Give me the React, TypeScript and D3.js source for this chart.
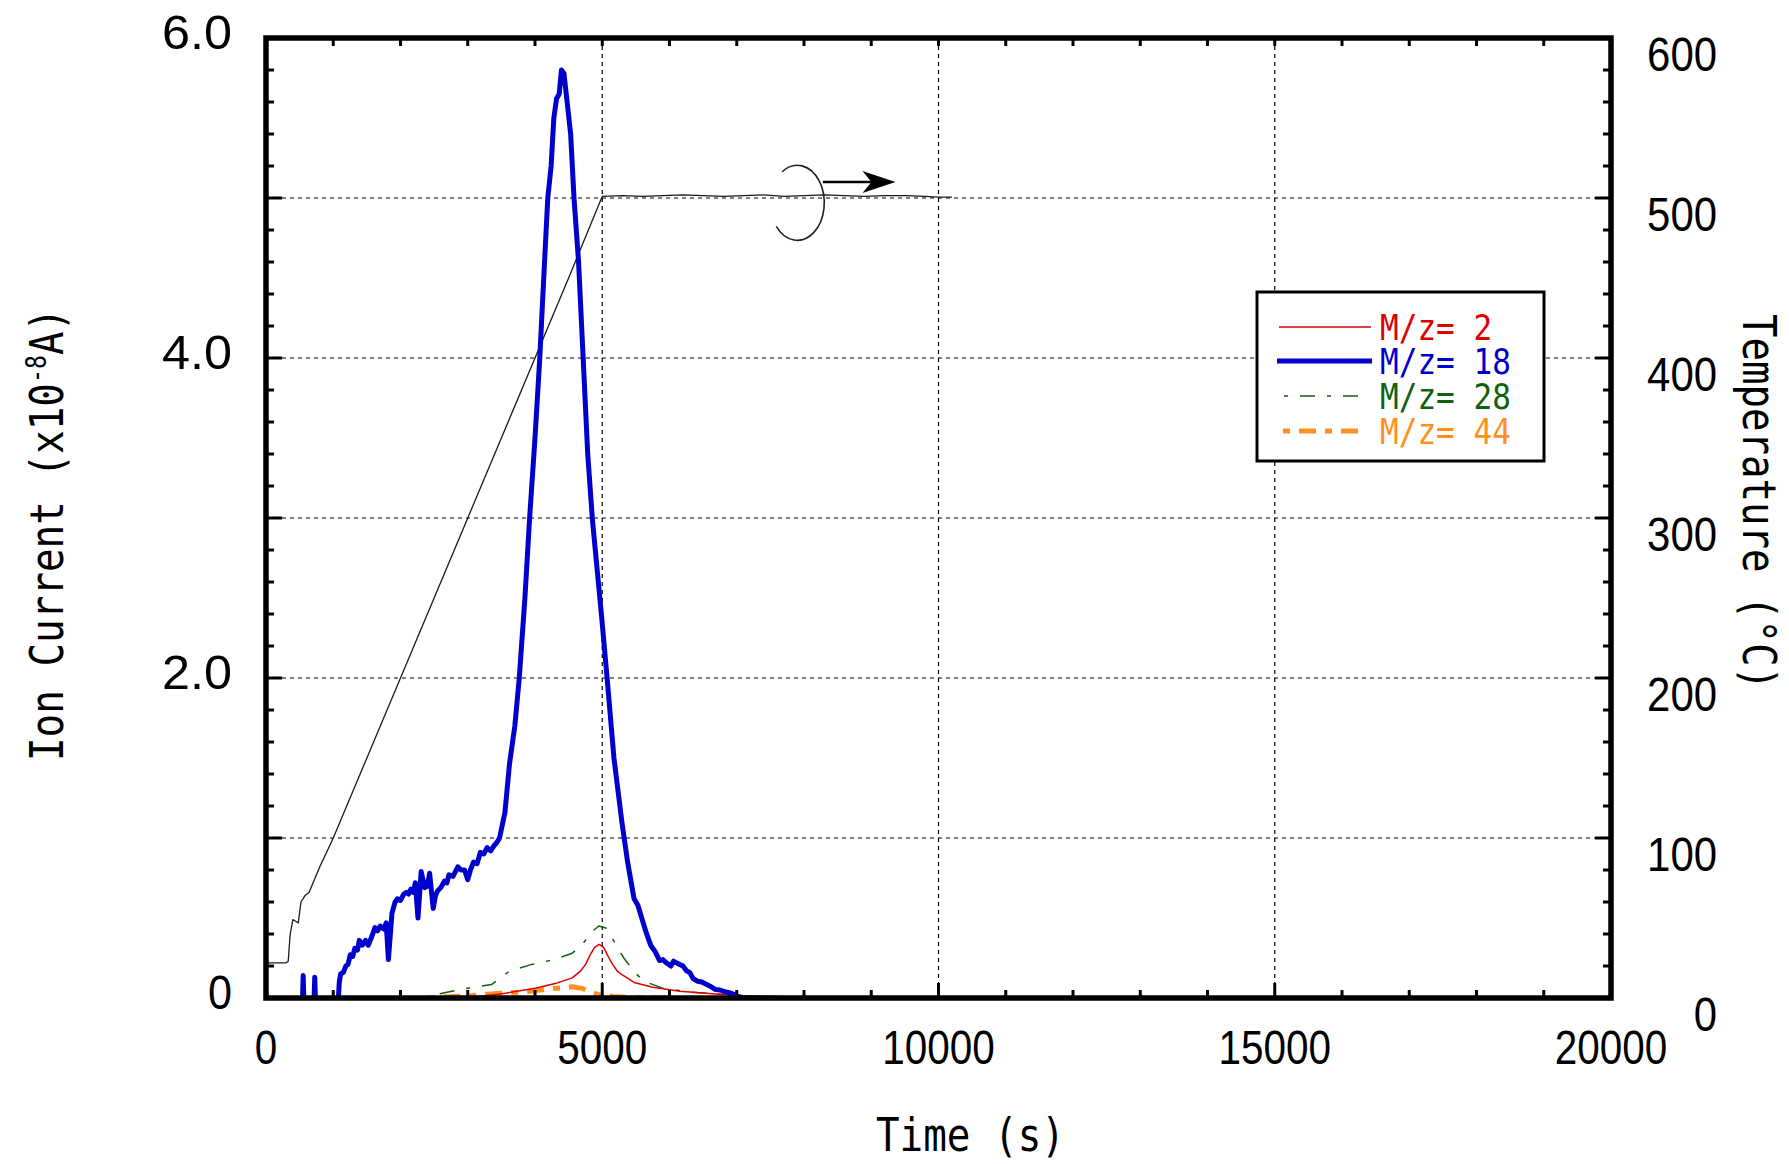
import React from "react";
import * as d3 from "d3";

// ---------- data ----------
const xTicksLabeled = [0, 5000, 10000, 15000, 20000];
const leftTickLabels = [
  { v: 0, s: "0" },
  { v: 2, s: "2.0" },
  { v: 4, s: "4.0" },
  { v: 6, s: "6.0" },
];
const rightTickLabels = [0, 100, 200, 300, 400, 500, 600];

// Temperature (°C), right axis
const tempTime = [0, 300, 330, 360, 400, 440, 480, 520, 580, 640, 700, 800, 900, 1000, 1500, 2000, 2500, 3000, 3500, 4000, 4500, 4950, 5000, 5300, 5600, 5900, 6200, 6500, 6800, 7100, 7400, 7700, 8000, 8300, 8600, 8900, 9200, 9500, 9800, 10000, 10200];
const tempVal = [22, 22, 23, 40, 49, 48, 47, 60, 64, 66, 72, 82, 91, 100, 150, 200, 250, 300, 350, 400, 450, 496, 501, 501.5, 501, 501.5, 502, 501.5, 501, 501.5, 502, 501, 501.5, 502, 501.5, 501, 501.5, 501.5, 501, 500.5, 500.5];

// M/z = 18 (x1e-8 A)
const m18Time = [0, 500, 540, 553, 575, 700, 725, 750, 1050, 1090, 1110, 1150, 1187, 1220, 1253, 1290, 1320, 1360, 1387, 1430, 1480, 1520, 1560, 1620, 1660, 1700, 1753, 1787, 1820, 1873, 1920, 1953, 2000, 2050, 2087, 2120, 2153, 2190, 2220, 2260, 2307, 2360, 2400, 2433, 2487, 2520, 2553, 2600, 2653, 2690, 2720, 2780, 2853, 2900, 2953, 3000, 3040, 3087, 3140, 3187, 3240, 3287, 3340, 3387, 3430, 3473, 3553, 3620, 3700, 3766, 3850, 3920, 4000, 4071, 4130, 4190, 4240, 4280, 4320, 4360, 4393, 4430, 4478, 4530, 4580, 4648, 4716, 4784, 4852, 4919, 4987, 5072, 5174, 5292, 5377, 5473, 5530, 5587, 5653, 5720, 5787, 5853, 5900, 5953, 6020, 6060, 6100, 6153, 6200, 6253, 6300, 6353, 6420, 6480, 6553, 6620, 6687, 6750, 6820, 6920, 7020, 7087];
const m18Val = [-0.5, -0.3, -0.05, 0.14, -0.2, -0.2, 0.13, -0.2, -0.2, 0.1, 0.15, 0.16, 0.2, 0.21, 0.27, 0.26, 0.31, 0.3, 0.36, 0.33, 0.36, 0.33, 0.37, 0.44, 0.42, 0.45, 0.43, 0.47, 0.24, 0.53, 0.6, 0.62, 0.61, 0.65, 0.66, 0.65, 0.68, 0.66, 0.72, 0.5, 0.79, 0.69, 0.7, 0.78, 0.56, 0.64, 0.67, 0.69, 0.73, 0.72, 0.77, 0.76, 0.82, 0.8, 0.8, 0.74, 0.8, 0.85, 0.84, 0.91, 0.9, 0.94, 0.92, 0.95, 0.97, 1.0, 1.16, 1.46, 1.7, 2.0, 2.5, 3.0, 3.5, 4.0, 4.5, 5.0, 5.2, 5.5, 5.62, 5.65, 5.8, 5.78, 5.6, 5.4, 5.0, 4.6, 4.0, 3.4, 3.0, 2.7, 2.4, 2.0, 1.5, 1.1, 0.85, 0.62, 0.58, 0.5, 0.41, 0.33, 0.29, 0.234, 0.24, 0.22, 0.2, 0.23, 0.22, 0.21, 0.2, 0.17, 0.16, 0.12, 0.105, 0.1, 0.084, 0.07, 0.053, 0.05, 0.04, 0.03, 0.01, 0.0];

// M/z = 2
const m2Time = [2400, 3020, 3487, 4020, 4300, 4553, 4680, 4753, 4820, 4887, 4953, 5020, 5087, 5153, 5220, 5287, 5487, 5753, 6153, 6687, 7087, 7753, 8500, 9500, 10150];
const m2Val = [0.0, 0.005, 0.025, 0.063, 0.09, 0.126, 0.17, 0.21, 0.27, 0.316, 0.335, 0.316, 0.26, 0.21, 0.17, 0.147, 0.095, 0.067, 0.042, 0.025, 0.015, 0.008, 0.005, 0.004, 0.004];

// M/z = 28
const m28Time = [2353, 2620, 3020, 3353, 3620, 3953, 4287, 4553, 4687, 4853, 4950, 5053, 5153, 5320, 5487, 5620, 5887, 6287, 6687, 7087, 7500, 8000];
const m28Val = [0.0, 0.03, 0.063, 0.084, 0.168, 0.21, 0.24, 0.28, 0.326, 0.417, 0.45, 0.438, 0.37, 0.25, 0.158, 0.105, 0.063, 0.038, 0.025, 0.01, 0.005, 0.003];

// M/z = 44
const m44Time = [2400, 2620, 3087, 3487, 3887, 4287, 4553, 4700, 4850, 4953, 5153, 5420, 6000];
const m44Val = [0.0, 0.006, 0.015, 0.03, 0.04, 0.06, 0.07, 0.06, 0.035, 0.02, 0.01, 0.003, 0.0];

const legendLabels = ["M/z= 2", "M/z= 18", "M/z= 28", "M/z= 44"];
const xTitle = "Time (s)";
const yTitleParts = ["Ion Current (x10", "-8", "A)"];
const y2Title = "Temperature (°C)";

// annotation (data units): ellipse around the temperature curve, arrow to the right axis
const annCenter = { t: 7900, temp: 497 };
const annArrow = { t0: 8280, t1: 9360, temp: 510 };

// ---------- layout ----------
const W = 1789, H = 1164;
const L = 266, R = 1611, T = 38, B = 998;

const colors = {
  m2: "#e00000",
  m18: "#0000cc",
  m28: "#106010",
  m44: "#ff9020",
};

const sansFont = "'Liberation Sans', Arial, sans-serif";
const monoFont = "'DejaVu Sans Mono', monospace";

export default function App() {
  const x = d3.scaleLinear().domain([0, 20000]).range([L, R]);
  const y = d3.scaleLinear().domain([0, 6]).range([B, T]);
  const yT = d3.scaleLinear().domain([0, 600]).range([B, T]);

  const lineIon = (ts: number[], vs: number[]) =>
    d3.line<number>().x((_, i) => x(ts[i])).y((v) => y(v))(vs) || "";
  const tempPath =
    d3.line<number>().x((_, i) => x(tempTime[i])).y((v) => yT(v))(tempVal) || "";

  const xMinor = d3.range(0, 20001, 1000);
  const yMinor = d3.range(0, 6.001, 0.2).map((v) => Math.round(v * 10) / 10);

  // annotation geometry
  const cx = x(annCenter.t), cy = yT(annCenter.temp);
  const rx = 27, ry = 37.5;
  const a0 = (-124 * Math.PI) / 180, a1 = (141 * Math.PI) / 180;
  const sx = cx + rx * Math.cos(a0), sy = cy + ry * Math.sin(a0);
  const ex = cx + rx * Math.cos(a1), ey = cy + ry * Math.sin(a1);
  const ax0 = x(annArrow.t0), ax1 = x(annArrow.t1), ay = yT(annArrow.temp);

  const legendRowsY = [327, 361, 396, 431];
  const legendStyles = [
    { c: colors.m2, w: 1.5, dash: undefined, x0: 1279, x1: 1371 },
    { c: colors.m18, w: 5, dash: undefined, x0: 1277, x1: 1372 },
    { c: colors.m28, w: 1.5, dash: "4 12 15 12", x0: 1284, x1: 1358 },
    { c: colors.m44, w: 5, dash: "7 9 17 9", x0: 1283, x1: 1360 },
  ];

  return (
    <svg
      width={W}
      height={H}
      style={{ position: "absolute", left: 0, top: 0, background: "#fff" }}
    >
      <defs>
        <clipPath id="plotClip">
          <rect x={L} y={T} width={R - L} height={B - T} />
        </clipPath>
      </defs>
      <rect x={0} y={0} width={W} height={H} fill="#fff" />

      {/* grid */}
      <g stroke="#000" strokeWidth={1.2} strokeDasharray="4 4">
        {[5000, 10000, 15000].map((t) => (
          <line key={"gx" + t} x1={x(t)} x2={x(t)} y1={T} y2={B} />
        ))}
        {[1, 2, 3, 4, 5].map((v) => (
          <line key={"gy" + v} x1={L} x2={R} y1={y(v)} y2={y(v)} />
        ))}
      </g>

      {/* series */}
      <g clipPath="url(#plotClip)" fill="none" strokeLinejoin="round">
        <path d={tempPath} stroke="#1a1a1a" strokeWidth={1.3} />
        <path d={lineIon(m44Time, m44Val)} stroke={colors.m44} strokeWidth={5} strokeDasharray="7 9 17 9" />
        <path d={lineIon(m28Time, m28Val)} stroke={colors.m28} strokeWidth={1.5} strokeDasharray="4 12 15 12" />
        <path d={lineIon(m2Time, m2Val)} stroke={colors.m2} strokeWidth={1.5} />
        <path d={lineIon(m18Time, m18Val)} stroke={colors.m18} strokeWidth={5} />
      </g>

      {/* ticks */}
      <g stroke="#000" strokeWidth={3}>
        {xMinor.map((t) => {
          const major = t % 5000 === 0;
          return (
            <g key={"xt" + t}>
              <line x1={x(t)} x2={x(t)} y1={B} y2={B - (major ? 15 : 8)} />
              <line x1={x(t)} x2={x(t)} y1={T} y2={T + 8} />
            </g>
          );
        })}
        {yMinor.map((v) => {
          const major = Math.abs(v - Math.round(v)) < 1e-6;
          const len = major ? 16 : 8;
          return (
            <g key={"yt" + v}>
              <line x1={L} x2={L + len} y1={y(v)} y2={y(v)} />
              <line x1={R} x2={R - len} y1={y(v)} y2={y(v)} />
            </g>
          );
        })}
      </g>

      {/* frame */}
      <rect x={L} y={T} width={R - L} height={B - T} fill="none" stroke="#000" strokeWidth={5.5} />

      {/* tick labels */}
      <g fontFamily={sansFont} fontSize={48} fill="#000">
        {xTicksLabeled.map((t) => {
          const s = String(t);
          return (
            <text key={"xl" + t} x={x(t)} y={1064} textAnchor="middle" textLength={22.5 * s.length} lengthAdjust="spacingAndGlyphs">
              {s}
            </text>
          );
        })}
        {leftTickLabels.map((d) => (
          <text key={"yl" + d.v} x={232} y={y(d.v) + 11} textAnchor="end" textLength={d.s.length === 1 ? 24 : 70} lengthAdjust="spacingAndGlyphs">
            {d.s}
          </text>
        ))}
        {rightTickLabels.map((v) => {
          const s = String(v);
          return (
            <text key={"rl" + v} x={1717} y={yT(v) + 33} textAnchor="end" textLength={23.3 * s.length} lengthAdjust="spacingAndGlyphs">
              {s}
            </text>
          );
        })}
      </g>

      {/* axis titles */}
      <g fontFamily={monoFont} fontSize={46} fill="#000">
        <text x={876} y={1151} textLength={189} lengthAdjust="spacingAndGlyphs">
          {xTitle}
        </text>
        <text transform="translate(63,761) rotate(-90)">
          <tspan textLength={378} lengthAdjust="spacingAndGlyphs">{yTitleParts[0]}</tspan>
          <tspan fontSize={28} dy={-17} textLength={28} lengthAdjust="spacingAndGlyphs">{yTitleParts[1]}</tspan>
          <tspan dy={17} textLength={47} lengthAdjust="spacingAndGlyphs">{yTitleParts[2]}</tspan>
        </text>
        <text transform="translate(1743,314) rotate(90)" textLength={376} lengthAdjust="spacingAndGlyphs">
          {y2Title}
        </text>
      </g>

      {/* annotation */}
      <path
        d={`M${sx},${sy} A${rx},${ry} 0 1 1 ${ex},${ey}`}
        fill="none"
        stroke="#222"
        strokeWidth={1.6}
      />
      <line x1={ax0} x2={ax1 - 10} y1={ay} y2={ay} stroke="#000" strokeWidth={2.6} />
      <path
        d={`M${ax1},${ay} L${ax1 - 33},${ay - 11} L${ax1 - 24},${ay} L${ax1 - 33},${ay + 11} Z`}
        fill="#000"
      />

      {/* legend */}
      <rect x={1257} y={292} width={287} height={169} fill="#fff" stroke="#000" strokeWidth={3} />
      {legendStyles.map((s, i) => (
        <g key={"lg" + i}>
          <line x1={s.x0} x2={s.x1} y1={legendRowsY[i]} y2={legendRowsY[i]} stroke={s.c} strokeWidth={s.w} strokeDasharray={s.dash} />
          <text
            x={1380}
            y={legendRowsY[i] + 13}
            fontFamily={monoFont}
            fontSize={35}
            fill={s.c}
            textLength={18.7 * legendLabels[i].length}
            lengthAdjust="spacingAndGlyphs"
          >
            {legendLabels[i]}
          </text>
        </g>
      ))}
    </svg>
  );
}
